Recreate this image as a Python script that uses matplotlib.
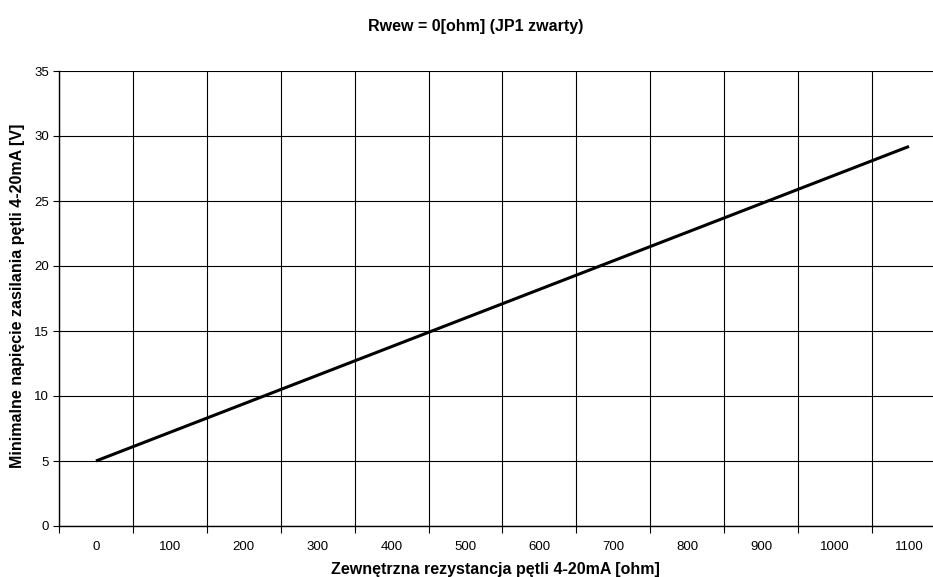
import numpy as np
import matplotlib.pyplot as plt

plt.rcParams['font.family'] = ['Liberation Sans', 'DejaVu Sans']

# resistance categories [ohm] and minimum supply voltage [V]
resistance = [0, 100, 200, 300, 400, 500, 600, 700, 800, 900, 1000, 1100]
voltage = [5.0, 7.2, 9.4, 11.6, 13.8, 16.0, 18.2, 20.4, 22.6, 24.8, 27.0, 29.2]
y_ticks = [0, 5, 10, 15, 20, 25, 30, 35]

W, H = 933, 577
fig = plt.figure(figsize=(W / 100, H / 100), dpi=100)
# plot area runs past the right edge, like the original Excel export
left, right, top, bottom = 59, 946, 71, 526
ax = fig.add_axes([left / W, 1 - bottom / H, (right - left) / W, (bottom - top) / H])

pos = np.arange(len(resistance))
ax.plot(pos, voltage, color='black', linewidth=2.2, solid_capstyle='butt', zorder=3)

ax.set_xlim(-0.5, len(resistance) - 0.5)
ax.set_ylim(0, 35)
ax.set_yticks(y_ticks)
ax.set_yticklabels([str(v) for v in y_ticks], fontsize=9.5)

# category labels centred, ticks/grid on the boundaries
ax.set_xticks(pos)
ax.set_xticklabels([str(r) for r in resistance], fontsize=9.5)
ax.tick_params(axis='x', which='major', length=0, pad=11)
ax.set_xticks(np.arange(-0.5, len(resistance) + 0.5, 1), minor=True)
ax.tick_params(axis='x', which='minor', length=5, width=0.8, color='black')
ax.tick_params(axis='y', length=4, width=0.8, pad=3)

ax.grid(axis='y', which='major', color='black', linewidth=0.8)
ax.grid(axis='x', which='minor', color='black', linewidth=0.8)
ax.set_axisbelow(True)

for s in ['top', 'right']:
    ax.spines[s].set_visible(False)
ax.spines['left'].set_linewidth(1.0)
ax.spines['bottom'].set_linewidth(1.0)

fig.text(495 / W, 1 - 574 / H, 'Zewnętrzna rezystancja pętli 4-20mA [ohm]',
         ha='center', va='baseline', fontsize=11.5, fontweight='bold')
fig.text(18 / W, 1 - 296 / H, 'Minimalne napięcie zasilania pętli 4-20mA [V]',
         ha='center', va='center', rotation=90, fontsize=11.5, fontweight='bold')
fig.text(476 / W, 1 - 27 / H, 'Rwew = 0[ohm] (JP1 zwarty)', ha='center', va='center',
         fontsize=11.5, fontweight='bold')

fig.savefig('out.png', dpi=100)
